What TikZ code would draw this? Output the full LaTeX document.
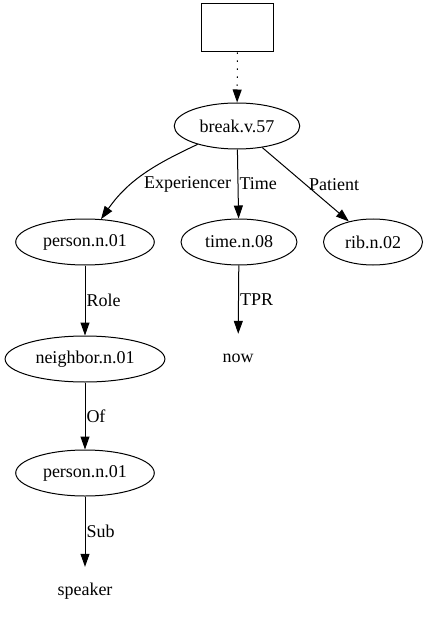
\documentclass[tikz,border=0pt]{standalone}
\usepackage{fontspec}
\setmainfont{Liberation Serif}
\usetikzlibrary{arrows.meta,shapes.geometric,positioning}

\begin{document}
\begin{tikzpicture}[x=1pt, y=1pt,
	every node/.style={font=\fontsize{18}{21}\selectfont},
	synset/.style={draw, ellipse, line width=1pt, inner xsep=7pt, minimum height=46pt},
	leaf/.style={inner sep=4pt, minimum height=48pt},
	rel/.style={-{Triangle[length=13pt, width=9pt]}, line width=1pt},
	lbl/.style={anchor=west, inner sep=1pt}]
	\useasboundingbox (0,0) rectangle (430,-620);

	\node[draw, line width=1pt, minimum width=72pt, minimum height=48pt] (box) at (237.5,-28) {};
	\node[synset] (break) at (237,-126) {break.v.57};

	\node[synset] (person) at (85,-242) {person.n.01};
	\node[synset] (time)   at (239,-242) {time.n.08};
	\node[synset] (rib)    at (373,-242) {rib.n.02};

	\node[synset] (neighbor) at (85,-359) {neighbor.n.01};
	\node[leaf]   (now)      at (238,-358) {now};

	\node[synset] (person2) at (85,-473) {person.n.01};
	\node[leaf]   (speaker) at (85,-591) {speaker};

	\draw[rel, dash pattern=on 1.3pt off 6.7pt] (box) -- (break);

	\draw[rel] (break) to[out=205, in=55] node[lbl, pos=0.62, xshift=10pt, yshift=-1pt] {Experiencer} (person);
	\draw[rel] (break) -- node[lbl] {Time} (time);
	\draw[rel] (break) -- node[lbl, inner sep=3pt] {Patient} (rib);

	\draw[rel] (person) -- node[lbl] {Role} (neighbor);
	\draw[rel] (time) -- node[lbl] {TPR} (now);
	\draw[rel] (neighbor) -- node[lbl] {Of} (person2);
	\draw[rel] (person2) -- node[lbl] {Sub} (speaker);

\end{tikzpicture}
\end{document}
